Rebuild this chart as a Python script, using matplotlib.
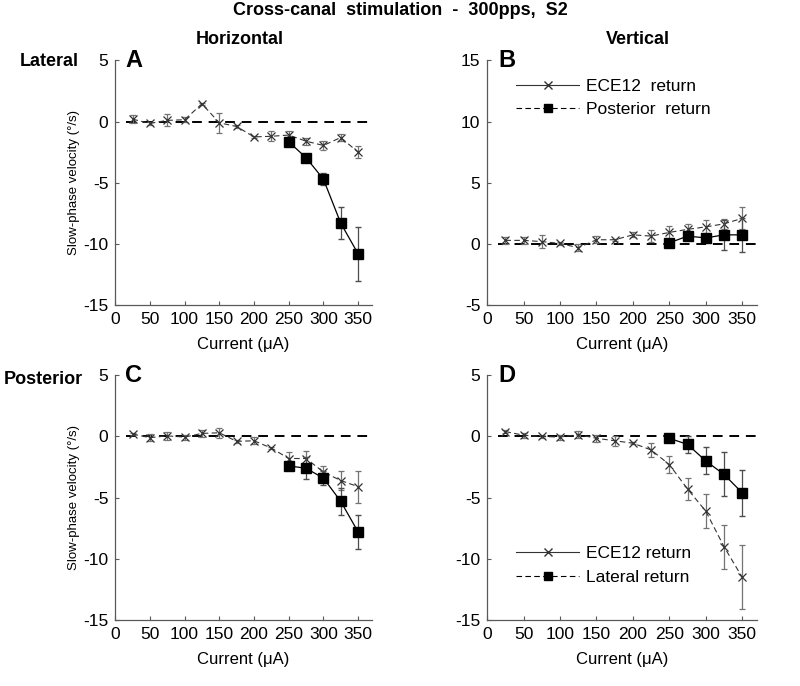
import matplotlib.pyplot as plt
from matplotlib.lines import Line2D
import numpy as np

plt.rcParams['font.family'] = ['Liberation Sans', 'DejaVu Sans']
plt.rcParams['axes.unicode_minus'] = False

currents = np.array([25, 50, 75, 100, 125, 150, 175, 200, 225, 250, 275, 300, 325, 350])
sq_currents = np.array([250, 275, 300, 325, 350])

# panel A: lateral stim, horizontal
a_ece = [0.2, -0.15, 0.1, 0.15, 1.45, -0.1, -0.4, -1.25, -1.2, -1.1, -1.6, -1.95, -1.3, -2.5]
a_ece_err = [0.3, 0.1, 0.5, 0.2, 0.1, 0.8, 0.1, 0.1, 0.4, 0.3, 0.3, 0.4, 0.3, 0.5]
a_sq = [-1.65, -2.95, -4.7, -8.3, -10.8]
a_sq_err = [0.2, 0.2, 0.5, 1.3, 2.2]

# panel B: lateral stim, vertical
b_ece = [0.3, 0.3, 0.2, 0.05, -0.3, 0.35, 0.35, 0.75, 0.65, 0.95, 1.2, 1.4, 1.65, 2.1]
b_ece_err = [0.3, 0.3, 0.5, 0.1, 0.3, 0.3, 0.1, 0.2, 0.5, 0.5, 0.4, 0.6, 0.4, 0.9]
b_sq = [0.1, 0.65, 0.5, 0.75, 0.75]
b_sq_err = [0.1, 0.3, 0.3, 1.2, 1.4]

# panel C: posterior stim, horizontal
c_ece = [0.2, -0.1, 0.05, -0.05, 0.25, 0.3, -0.4, -0.35, -0.95, -1.8, -1.8, -2.9, -3.6, -4.1]
c_ece_err = [0.1, 0.3, 0.3, 0.2, 0.3, 0.4, 0.1, 0.3, 0.1, 0.5, 0.6, 0.5, 0.8, 1.3]
c_sq = [-2.4, -2.6, -3.4, -5.3, -7.8]
c_sq_err = [0.1, 0.9, 0.6, 1.1, 1.4]

# panel D: posterior stim, vertical
d_ece = [0.4, 0.1, 0.0, -0.05, 0.15, -0.15, -0.35, -0.55, -1.1, -2.3, -4.3, -6.1, -9.0, -11.5]
d_ece_err = [0.1, 0.2, 0.1, 0.2, 0.3, 0.3, 0.4, 0.1, 0.6, 0.7, 0.9, 1.4, 1.8, 2.6]
d_sq = [-0.15, -0.65, -2.0, -3.1, -4.6]
d_sq_err = [0.1, 0.7, 1.1, 1.8, 1.9]

fig = plt.figure(figsize=(8, 6.86), dpi=100)

left_x = [0.144, 0.609]
width = [0.321, 0.337]
top_y = 0.555
bot_y = 0.096
height = 0.357


def panel(ax, ece, ece_err, sq, sq_err, ylim, yticks, letter):
    ax.plot([15, 370], [0, 0], color='black', ls=(0, (5, 3.5)), lw=1.4, zorder=1)
    ax.errorbar(currents, ece, yerr=ece_err, color='0.2', ls=(0, (5, 3)), lw=0.8,
                marker='x', ms=6, mew=0.9, ecolor='0.45', elinewidth=0.9,
                capsize=2.5, zorder=3)
    ax.errorbar(sq_currents, sq, yerr=sq_err, color='black', ls='-', lw=0.9,
                marker='s', ms=6.5, ecolor='0.3', elinewidth=0.9, capsize=2.5,
                zorder=4)
    ax.set_xlim(0, 370)
    ax.set_ylim(*ylim)
    ax.set_xticks(np.arange(0, 351, 50))
    ax.set_yticks(yticks)
    ax.spines['top'].set_visible(False)
    ax.spines['right'].set_visible(False)
    for s in ['left', 'bottom']:
        ax.spines[s].set_color('0.35')
        ax.spines[s].set_linewidth(0.9)
    ax.tick_params(direction='in', length=3, color='0.35', labelsize=12.5, pad=5)
    ax.set_xlabel('Current (μA)', fontsize=12, labelpad=7)
    ax.text(0.04, 1.0, letter, transform=ax.transAxes, fontsize=17,
            fontweight='bold', va='center', ha='left')


axA = fig.add_axes([left_x[0], top_y, width[0], height])
axB = fig.add_axes([left_x[1], top_y, width[1], height])
axC = fig.add_axes([left_x[0], bot_y, width[0], height])
axD = fig.add_axes([left_x[1], bot_y, width[1], height])

panel(axA, a_ece, a_ece_err, a_sq, a_sq_err, (-15, 5), [-15, -10, -5, 0, 5], 'A')
panel(axB, b_ece, b_ece_err, b_sq, b_sq_err, (-5, 15), [-5, 0, 5, 10, 15], 'B')
panel(axC, c_ece, c_ece_err, c_sq, c_sq_err, (-15, 5), [-15, -10, -5, 0, 5], 'C')
panel(axD, d_ece, d_ece_err, d_sq, d_sq_err, (-15, 5), [-15, -10, -5, 0, 5], 'D')

for ax in (axA, axC):
    ax.set_ylabel('Slow-phase velocity (°/s)', fontsize=9.5, labelpad=2)

handles = [Line2D([], [], color='0.2', ls='-', lw=0.8, marker='x', ms=6),
           Line2D([], [], color='black', ls=(0, (5, 3)), lw=0.8, marker='s', ms=6)]
axB.legend(handles, ['ECE12  return', 'Posterior  return'], loc='upper left',
           bbox_to_anchor=(0.05, 0.99), frameon=False, fontsize=12.5,
           handlelength=3.6, handletextpad=0.4, labelspacing=0.5)
axD.legend(handles, ['ECE12 return', 'Lateral return'], loc='lower left',
           bbox_to_anchor=(0.05, 0.08), frameon=False, fontsize=12.5,
           handlelength=3.6, handletextpad=0.4, labelspacing=0.5)

fig.text(0.5, 0.985, 'Cross-canal  stimulation  -  300pps,  S2', ha='center',
         va='center', fontsize=13, fontweight='bold')
fig.text(0.30, 0.942, 'Horizontal', ha='center', va='center', fontsize=13,
         fontweight='bold')
fig.text(0.797, 0.942, 'Vertical', ha='center', va='center', fontsize=13,
         fontweight='bold')
fig.text(0.025, 0.91, 'Lateral', ha='left', va='center', fontsize=13,
         fontweight='bold')
fig.text(0.005, 0.447, 'Posterior', ha='left', va='center', fontsize=13,
         fontweight='bold')

fig.savefig('out.png', dpi=100)
